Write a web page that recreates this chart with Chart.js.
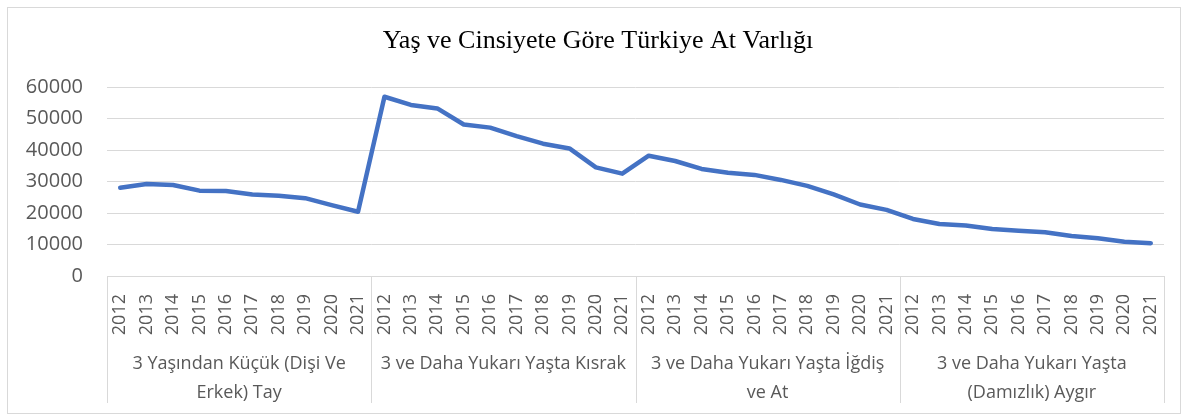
<!DOCTYPE html>
<html>
<head>
<meta charset="utf-8">
<script src="https://cdn.jsdelivr.net/npm/chart.js@4/dist/chart.umd.min.js"></script>
<style>
  html, body { margin: 0; padding: 0; background: #fff; }
  #wrap { width: 1187px; height: 416px; position: relative; }
</style>
</head>
<body>
<div id="wrap"><canvas id="myChart"></canvas></div>
<script>
const chartTitle = "Yaş ve Cinsiyete Göre Türkiye At Varlığı";
const years = ["2012", "2013", "2014", "2015", "2016", "2017", "2018", "2019", "2020", "2021"];
const groupLabels = [
  ["3 Yaşından Küçük (Dişi Ve", "Erkek) Tay"],
  ["3 ve Daha Yukarı Yaşta Kısrak"],
  ["3 ve Daha Yukarı Yaşta İğdiş", "ve At"],
  ["3 ve Daha Yukarı Yaşta", "(Damızlık) Aygır"],
];
const tay = [28000, 29200, 28900, 27100, 27000, 25900, 25500, 24700, 22500, 20400];
const kisrak = [56900, 54300, 53200, 48100, 47100, 44400, 42000, 40500, 34500, 32500];
const igdis = [38200, 36500, 34000, 32800, 32100, 30500, 28600, 25900, 22700, 21000];
const aygir = [18100, 16500, 16000, 14900, 14400, 13900, 12700, 12000, 10900, 10400];
const yTicks = [0, 10000, 20000, 30000, 40000, 50000, 60000];

const series = [tay, kisrak, igdis, aygir];
const labels = series.flatMap(() => years);
const values = series.flat();

const gridColor = "#d9d9d9";
const textColor = "#595959";

Chart.defaults.font.family = "'Open Sans'";
Chart.defaults.color = textColor;

// frame, title, divider lines and the two-level group labels
const groupAxis = {
  id: "groupAxis",
  beforeDraw(chart) {
    const { ctx } = chart;
    ctx.save();
    ctx.fillStyle = "#fff";
    ctx.fillRect(0, 0, chart.width, chart.height);
    ctx.strokeStyle = gridColor;
    ctx.lineWidth = 1;
    ctx.strokeRect(7.5, 7.5, 1173, 406);
    ctx.fillStyle = "#000";
    ctx.font = "26px 'Liberation Serif'";
    ctx.textAlign = "center";
    ctx.textBaseline = "middle";
    ctx.fillText(chartTitle, 598, 41);
    ctx.restore();
  },
  afterDraw(chart) {
    const { ctx, chartArea } = chart;
    const x = chart.scales.x;
    const n = years.length;
    const half = (x.getPixelForValue(1) - x.getPixelForValue(0)) / 2;
    ctx.save();
    ctx.strokeStyle = gridColor;
    ctx.lineWidth = 1;
    for (let g = 0; g <= groupLabels.length; g++) {
      const px = Math.round(x.getPixelForValue(g * n) - half) + 0.5;
      ctx.beginPath();
      ctx.moveTo(px, chartArea.bottom);
      ctx.lineTo(px, 403);
      ctx.stroke();
    }
    ctx.fillStyle = textColor;
    ctx.font = "18px 'Open Sans'";
    ctx.textAlign = "center";
    ctx.textBaseline = "middle";
    groupLabels.forEach((lines, g) => {
      const left = x.getPixelForValue(g * n) - half;
      const right = x.getPixelForValue(g * n + n - 1) + half;
      lines.forEach((t, i) => {
        ctx.fillText(t, (left + right) / 2, 364 + i * 29);
      });
    });
    ctx.restore();
  },
};

const ctx = document.getElementById("myChart").getContext("2d");
const myChart = new Chart(ctx, {
  type: "line",
  data: {
    labels: labels,
    datasets: [
      {
        data: values,
        borderColor: "#4472c4",
        borderWidth: 4.5,
        pointRadius: 0,
        tension: 0,
        borderJoinStyle: "round",
        borderCapStyle: "round",
      },
    ],
  },
  options: {
    responsive: true,
    maintainAspectRatio: false,
    animation: false,
    layout: { padding: { left: 0, right: 23, top: 87, bottom: 0 } },
    plugins: {
      legend: { display: false },
      tooltip: { enabled: false },
      title: { display: false },
    },
    scales: {
      x: {
        offset: true,
        grid: { display: false },
        border: { display: true, color: gridColor, width: 1 },
        ticks: {
          autoSkip: false,
          minRotation: 90,
          maxRotation: 90,
          padding: 10,
          color: textColor,
          font: { size: 18 },
        },
        afterFit(scale) {
          scale.height = 140;
        },
      },
      y: {
        min: 0,
        max: 60000,
        afterBuildTicks(scale) {
          scale.ticks = yTicks.map((v) => ({ value: v }));
        },
        grid: { color: gridColor, lineWidth: 1, drawTicks: false },
        border: { display: false },
        ticks: {
          padding: 24,
          color: textColor,
          font: { size: 20 },
          callback: (v) => String(v),
        },
        afterFit(scale) {
          scale.width = 107;
        },
      },
    },
  },
  plugins: [groupAxis],
});
</script>
</body>
</html>
